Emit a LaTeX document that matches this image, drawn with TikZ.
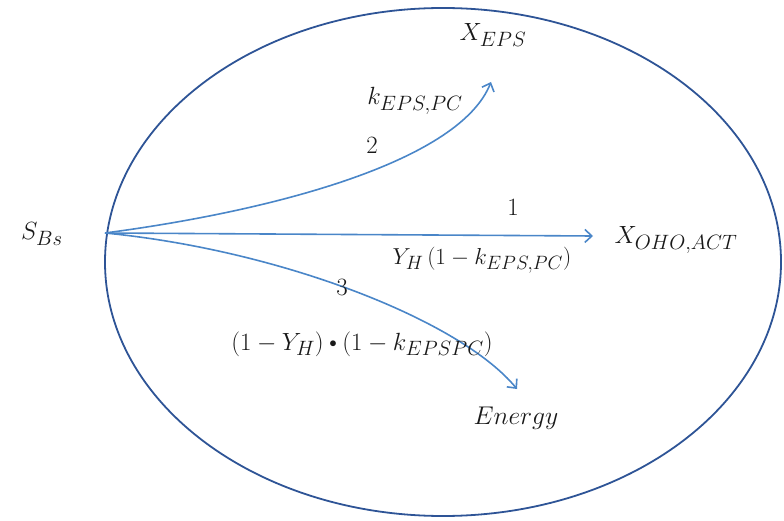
\documentclass[tikz,border=0pt]{standalone}
\usetikzlibrary{arrows.meta}
\definecolor{ringblue}{RGB}{46,84,150}
\definecolor{arrblue}{RGB}{74,134,200}
\newcommand{\smallbul}{\mathbin{\vcenter{\hbox{\scalebox{0.6}{$\bullet$}}}}}
\begin{document}
\begin{tikzpicture}[x=1pt,y=-1pt,
  lbl/.style={inner sep=1pt,font=\Huge,scale=1.0,text=black!90},
  num/.style={inner sep=1pt,font=\Huge,scale=1.0,text=black!90},
  flow/.style={draw=arrblue,line width=1.6pt,-{Straight Barb[length=7pt,width=13pt,line width=1.6pt]}}]
\useasboundingbox (0,0) rectangle (784,521);
\draw[ringblue,line width=1.8pt] (443,262) ellipse [x radius=338pt,y radius=254pt];
\coordinate (o) at (105,233);
\node[lbl] (sbs) at (42,234) {$S_{Bs}$};
\node[lbl] (xeps) at (493,35) {$X_{EPS}$};
\node[lbl] (xoho) at (676,240) {$X_{OHO,ACT}$};
\node[lbl,scale=1.03] (energy) at (516,418) {$Energy$};
\coordinate (t2) at (491,82);
\coordinate (t1) at (593,236);
\coordinate (t3) at (517,389);
\draw[flow] (o) .. controls (280,210) and (460,160) .. (t2);
\draw[flow] (o) -- (t1);
\draw[flow] (o) .. controls (280,250) and (460,320) .. (t3);
\node[lbl] (k) at (415,101) {$k_{EPS,PC}$};
\node[num] (n2) at (372,145) {2};
\node[num] (n1) at (513,207) {1};
\node[lbl,scale=0.93] (f1) at (482,260) {$Y_H\,(1-k_{EPS,PC})$};
\node[num] (n3) at (342,287) {3};
\node[lbl] (f3) at (362,344) {$(1-Y_H)\smallbul\bigl(1-k_{EPSPC}\bigr)$};
\end{tikzpicture}
\end{document}
